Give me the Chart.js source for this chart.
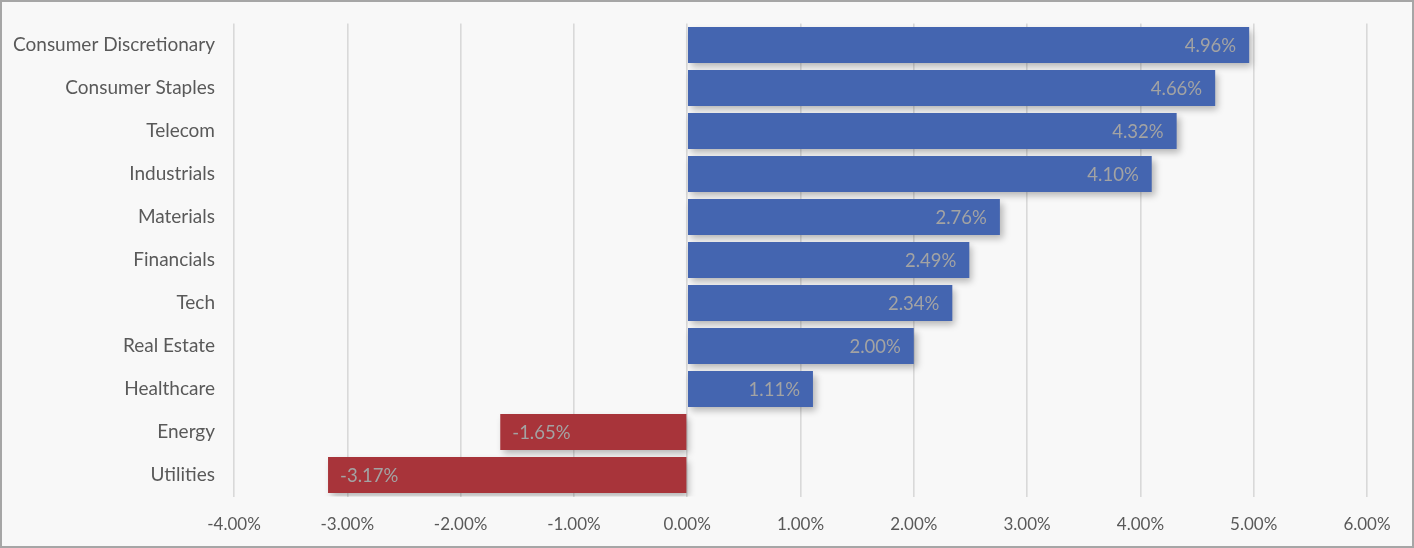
<!DOCTYPE html>
<html>
<head>
<meta charset="utf-8">
<script src="https://cdn.jsdelivr.net/npm/chart.js@4"></script>
<style>
  html, body { margin: 0; padding: 0; background: #f8f8f8; }
  #wrap {
    width: 1414px; height: 548px; box-sizing: border-box;
    border: 2px solid #a6a6a6; background: #f8f8f8;
  }
  #wrap canvas { display: block; }
</style>
</head>
<body>
<div id="wrap"><canvas id="chart" width="1410" height="544"></canvas></div>
<script>
const sectors = ['Consumer Discretionary', 'Consumer Staples', 'Telecom', 'Industrials',
  'Materials', 'Financials', 'Tech', 'Real Estate', 'Healthcare', 'Energy', 'Utilities'];
const returns = [4.96, 4.66, 4.32, 4.10, 2.76, 2.49, 2.34, 2.00, 1.11, -1.65, -3.17];
const axisTicks = [-4, -3, -2, -1, 0, 1, 2, 3, 4, 5, 6];

const FONT = 'Lato, "Open Sans", sans-serif';

// soft drop shadow under the bars
const barShadow = {
  id: 'barShadow',
  beforeDatasetsDraw(chart) {
    const ctx = chart.ctx;
    ctx.save();
    ctx.shadowColor = 'rgba(0,0,0,0.28)';
    ctx.shadowBlur = 7;
    ctx.shadowOffsetX = 3;
    ctx.shadowOffsetY = 4;
  },
  afterDatasetsDraw(chart) {
    chart.ctx.restore();
  }
};

// value labels at the inside end of each bar
const valueLabels = {
  id: 'valueLabels',
  afterDatasetsDraw(chart) {
    const ctx = chart.ctx;
    const meta = chart.getDatasetMeta(0);
    ctx.save();
    ctx.font = '18.5px ' + FONT;
    ctx.fillStyle = '#a3a3a3';
    ctx.textBaseline = 'middle';
    meta.data.forEach((bar, i) => {
      const v = returns[i];
      const txt = v.toFixed(2) + '%';
      if (v >= 0) {
        ctx.textAlign = 'right';
        ctx.fillText(txt, bar.x - 13, bar.y + 1);
      } else {
        ctx.textAlign = 'left';
        ctx.fillText(txt, bar.x + 12, bar.y + 1);
      }
    });
    ctx.restore();
  }
};

new Chart(document.getElementById('chart'), {
  type: 'bar',
  data: {
    labels: sectors,
    datasets: [{
      data: returns,
      backgroundColor: returns.map(v => v >= 0 ? '#4465b0' : '#a8343a'),
      borderWidth: 0,
      barPercentage: 0.84,
      categoryPercentage: 1
    }]
  },
  options: {
    indexAxis: 'y',
    responsive: false,
    animation: false,
    layout: { padding: { top: 21.5, right: 45, left: 0, bottom: 0 } },
    plugins: { legend: { display: false }, tooltip: { enabled: false } },
    scales: {
      x: {
        min: -4, max: 6,
        afterBuildTicks(scale) { scale.ticks = axisTicks.map(v => ({ value: v })); },
        afterFit(scale) { scale.height = 49.5; },
        grid: { color: '#d9d9d9', lineWidth: 1.6, drawTicks: false },
        border: { display: false },
        ticks: {
          padding: 18,
          color: '#595959',
          font: { family: FONT, size: 17 },
          callback: v => v.toFixed(2) + '%'
        }
      },
      y: {
        afterFit(scale) { scale.width = 232; },
        // invisible tick marks give the gap between labels and plot
        grid: { display: false, drawTicks: true, tickLength: 19 },
        border: { display: false },
        ticks: {
          padding: 0,
          color: '#595959',
          font: { family: FONT, size: 19 }
        }
      }
    }
  },
  plugins: [barShadow, valueLabels]
});
</script>
</body>
</html>
